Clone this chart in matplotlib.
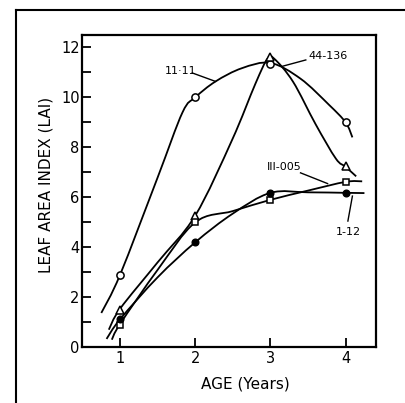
import numpy as np
import matplotlib
matplotlib.use("Agg")
import matplotlib.pyplot as plt
from matplotlib.path import Path
from matplotlib.patches import PathPatch
from matplotlib.lines import Line2D

# ---- data ----
ages = [1, 2, 3, 4]
lai_11_11 = [2.9, 10.0, 11.35, 9.0]
lai_44_136 = [1.5, 5.25, 11.6, 7.25]
lai_iii_005 = [0.9, 5.0, 5.9, 6.62]
lai_1_12 = [1.12, 4.2, 6.18, 6.18]

# hand-drawn fitted curves
curve_11_11_x = [0.75, 1.0, 1.5, 1.83, 2.0, 2.27, 2.62, 3.0, 3.4, 3.78, 4.0, 4.09]
curve_11_11_y = [1.37, 2.9, 6.8, 9.4, 10.0, 10.64, 11.17, 11.38, 10.75, 9.7, 9.0, 8.4]
curve_44_136_x = [0.85, 1.0, 1.5, 2.0, 2.49, 2.8, 2.96, 3.05, 3.3, 3.6, 3.87, 4.0, 4.14]
curve_44_136_y = [0.7, 1.54, 3.4, 5.27, 8.3, 10.55, 11.55, 11.55, 10.63, 8.93, 7.55, 7.22, 6.84]
curve_iii_005_x = [0.89, 1.0, 1.5, 2.0, 2.5, 3.0, 3.5, 4.0, 4.22]
curve_iii_005_y = [0.3, 0.93, 3.1, 5.0, 5.45, 5.9, 6.27, 6.62, 6.64]
curve_1_12_x = [0.82, 1.0, 1.5, 2.0, 2.5, 3.0, 3.5, 4.0, 4.25]
curve_1_12_y = [0.33, 1.12, 2.8, 4.2, 5.35, 6.18, 6.2, 6.18, 6.17]

series_labels = ["11\u00b711", "44-136", "III-005", "1-12"]
y_ticks = [0, 1, 2, 3, 4, 5, 6, 7, 8, 9, 10, 11, 12]
y_ticklabels = ["0", "", "2", "", "4", "", "6", "", "8", "", "10", "", "12"]
x_ticks = [1, 2, 3, 4]


def smooth_path(xs, ys):
    pts = np.column_stack([xs, ys]).astype(float)
    n = len(pts)
    verts = [pts[0]]
    codes = [Path.MOVETO]
    for i in range(n - 1):
        p0 = pts[i - 1] if i > 0 else pts[i]
        p1 = pts[i]
        p2 = pts[i + 1]
        p3 = pts[i + 2] if i + 2 < n else pts[i + 1]
        c1 = p1 + (p2 - p0) / 6.0
        c2 = p2 - (p3 - p1) / 6.0
        verts += [c1, c2, p2]
        codes += [Path.CURVE4] * 3
    return Path(verts, codes)


fig = plt.figure(figsize=(4.06, 4.03), dpi=100)
ax = fig.add_axes([0.2032, 0.1385, 0.7222, 0.7747])

lw = 1.3
for cx, cy in [(curve_11_11_x, curve_11_11_y), (curve_44_136_x, curve_44_136_y),
               (curve_iii_005_x, curve_iii_005_y), (curve_1_12_x, curve_1_12_y)]:
    ax.add_patch(PathPatch(smooth_path(cx, cy), facecolor="none",
                           edgecolor="black", lw=lw, zorder=2))

ms = 5.2
ax.plot(ages, lai_11_11, "o", ms=ms, mfc="white", mec="black", mew=1.1, ls="none", zorder=3)
ax.plot(ages, lai_44_136, "^", ms=ms, mfc="white", mec="black", mew=1.1, ls="none", zorder=3)
ax.plot(ages, lai_iii_005, "s", ms=ms - 0.4, mfc="white", mec="black", mew=1.1, ls="none", zorder=3)
ax.plot(ages, lai_1_12, "o", ms=ms - 0.4, mfc="black", mec="black", mew=1.0, ls="none", zorder=3)

# labels with leader lines
lab_fs = 8
ax.text(1.8, 11.05, series_labels[0], fontsize=lab_fs, ha="center", va="center")
ax.plot([1.96, 2.27], [10.98, 10.64], color="black", lw=1.0)
ax.text(3.77, 11.64, series_labels[1], fontsize=lab_fs, ha="center", va="center")
ax.plot([3.47, 3.15], [11.5, 11.24], color="black", lw=1.0)
ax.text(3.19, 7.2, series_labels[2], fontsize=lab_fs, ha="center", va="center")
ax.plot([3.4, 3.76], [6.98, 6.55], color="black", lw=1.0)
ax.text(4.03, 4.62, series_labels[3], fontsize=lab_fs, ha="center", va="center")
ax.plot([4.03, 4.09], [5.05, 6.05], color="black", lw=1.0)

ax.set_xlim(0.5, 4.4)
ax.set_ylim(0, 12.5)
ax.set_xticks(x_ticks)
ax.set_xticklabels([str(t) for t in x_ticks])
ax.set_yticks(y_ticks)
ax.set_yticklabels(y_ticklabels)
ax.tick_params(direction="in", length=6.5, width=1.3, labelsize=10.5, pad=2)
ax.tick_params(axis="x", pad=3)
for s in ax.spines.values():
    s.set_linewidth(1.6)

ax.set_ylabel("LEAF AREA INDEX (LAI)", fontsize=11, labelpad=2)
ax.yaxis.set_label_coords(-0.1, 0.52)
ax.set_xlabel("AGE (Years)", fontsize=11, labelpad=5)
ax.xaxis.set_label_coords(0.557, -0.095)

# outer frame (left and top edges)
fig.add_artist(Line2D([16.5 / 406, 16.5 / 406], [0, 1 - 10 / 403], transform=fig.transFigure,
                      color="black", lw=1.5))
fig.add_artist(Line2D([16.5 / 406, 1], [1 - 10 / 403, 1 - 10 / 403], transform=fig.transFigure,
                      color="black", lw=1.5))

fig.savefig("out.png", dpi=100)
